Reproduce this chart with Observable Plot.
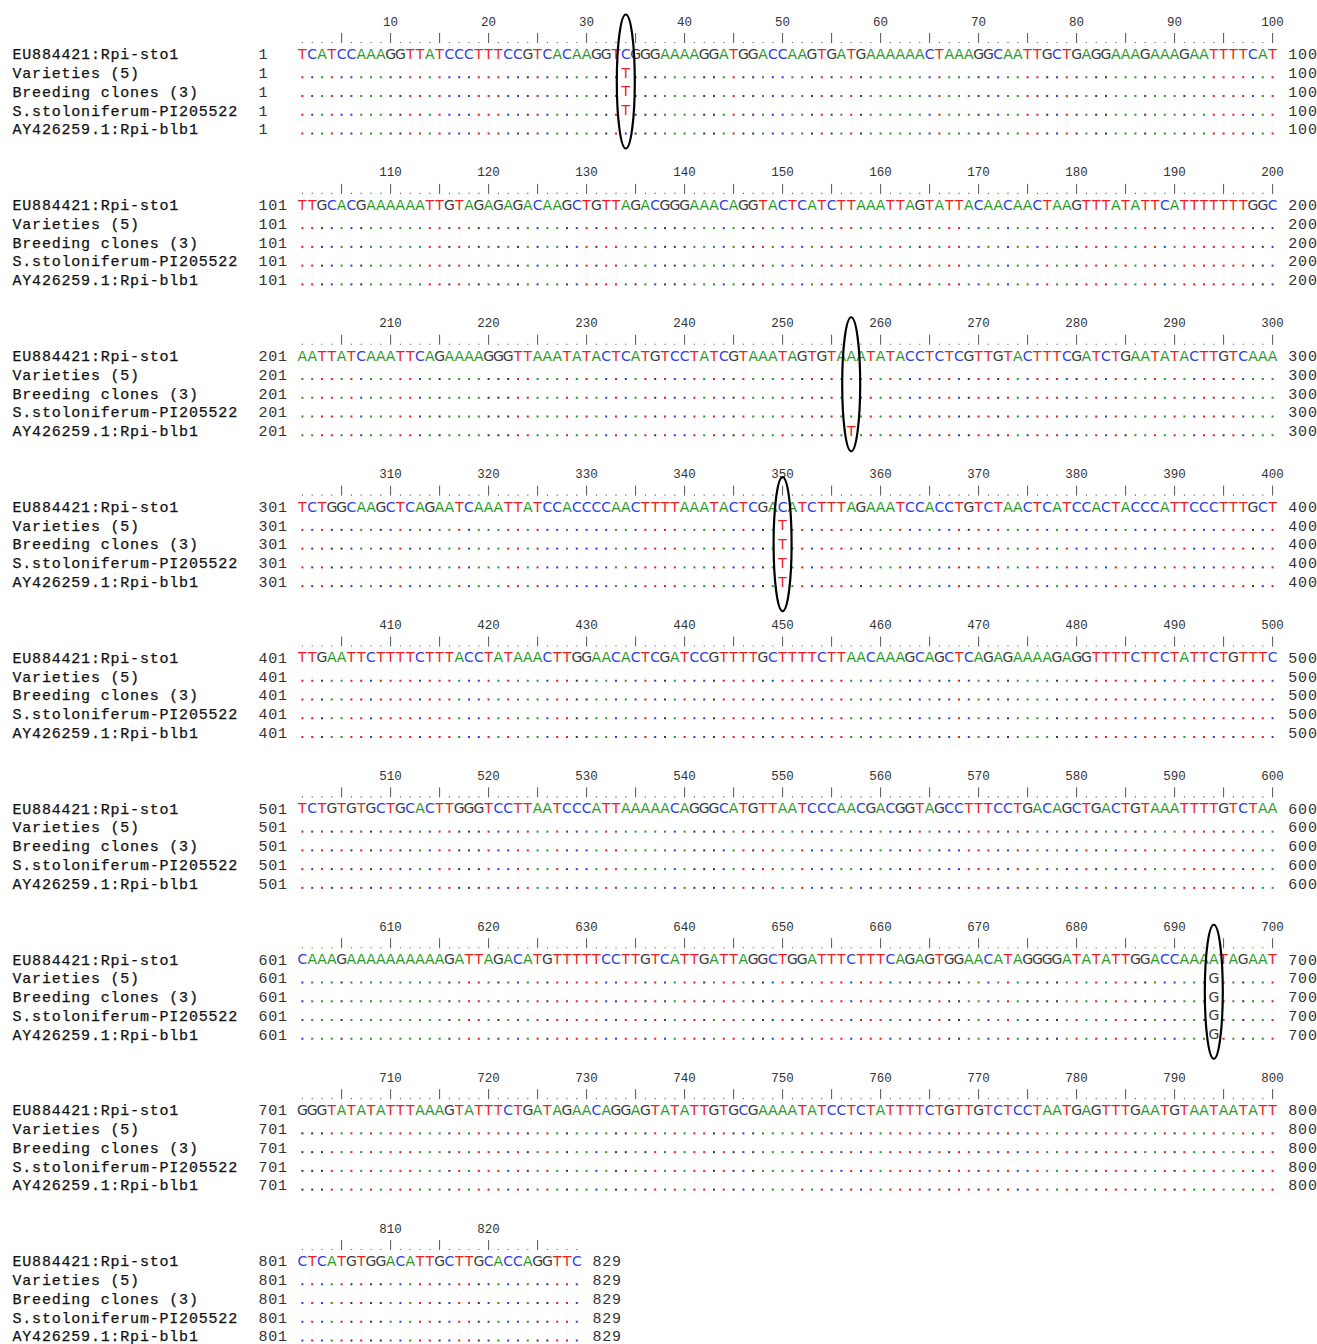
<!DOCTYPE html>
<html><head><meta charset="utf-8">
<script src="https://cdn.jsdelivr.net/npm/d3@7"></script>
<script src="https://cdn.jsdelivr.net/npm/@observablehq/plot@0.6"></script>
<style>html,body{margin:0;padding:0;background:#fff}#chart svg{display:block}</style>
</head><body><div id="chart"></div>
<script>
// ---------------- DATA ----------------
const rowNames = ["EU884421:Rpi-sto1", "Varieties (5)", "Breeding clones (3)", "S.stoloniferum-PI205522", "AY426259.1:Rpi-blb1"];
// reference sequence (EU884421:Rpi-sto1), one string per 100-nt block, written in groups of ten
const refBlocks = [
  "TCATCCAAAG GTTATCCCTT TCCGTCACAA GGTCGGGAAA AGGATGGACC AAGTGATGAA AAAACTAAAG GCAATTGCTG AGGAAAGAAA GAATTTTCAT",
  "TTGCACGAAA AAATTGTAGA GAGACAAGCT GTTAGACGGG AAACAGGTAC TCATCTTAAA TTAGTATTAC AACAACTAAG TTTATATTCA TTTTTTTGGC",
  "AATTATCAAA TTCAGAAAAG GGTTAAATAT ACTCATGTCC TATCGTAAAT AGTGTAAATA TACCTCTCGT TGTACTTTCG ATCTGAATAT ACTTGTCAAA",
  "TCTGGCAAGC TCAGAATCAA ATTATCCACC CCAACTTTTA AATACTCGAC ATCTTTAGAA ATCCACCTGT CTAACTCATC CACTACCCAT TCCCTTTGCT",
  "TTGAATTCTT TTCTTTACCT ATAAACTTGG AACACTCGAT CCGTTTTGCT TTTCTTAACA AAGCAGCTCA GAGAAAAGAG GTTTTCTTCT ATTCTGTTTC",
  "TCTGTGTGCT GCACTTGGGT CCTTAATCCC ATTAAAAACA GGGCATGTTA ATCCCAACGA CGGTAGCCTT TCCTGACAGC TGACTGTAAA TTTTGTCTAA",
  "CAAAGAAAAA AAAAAGATTA GACATGTTTT TCCTTGTCAT TGATTAGGCT GGATTTCTTT CAGAGTGGAA CATAGGGGAT ATATTGGACC AAAATAGAAT",
  "GGGTATATAT TTAAAGTATT TCTGATAGAA CAGGAGTATA TTGTGCGAAA ATATCCTCTA TTTTCTGTTG TCTCCTAATG AGTTTGAATG TAATAATATT",
  "CTCATGTGGA CATTGCTTGC ACCAGGTTC"
];
// SNP positions, alternative base, and which rows (1-4) carry it
const variantPos  = [34, 257, 350, 694];
const variantBase = ["T", "T", "T", "G"];
const variantRows = [[1, 2, 3], [4], [1, 2, 3, 4], [1, 2, 3, 4]];

// ---------------- LAYOUT / STYLE ----------------
const W = 1317, H = 1344;
const CW = 9.8, X0 = 297;                 // column width, left edge of column 1
const ROW0 = 54, BLOCK = 150.875, ROWH = 18.75;
const LABEL_PX = 12, STARTNUM_PX = 258, ENDNUM_GAP = 1.6;
const ovalShift = [27, 28, 37, 32];
const baseColor = {A: "#2b9a2b", C: "#2f3fe6", G: "#3c3c3c", T: "#ee1d23"};

const seq = refBlocks.map(s => s.replace(/ /g, "")).join("");
const N = seq.length;
const nBlocks = Math.ceil(N / 100);
const d0 = 0.5 - X0 / CW;
const colOfPx = px => d0 + px / CW;
const yOf = (b, r) => ROW0 + b * BLOCK + r * ROWH;

const cells = [], ruler = [], rulerNums = [];
for (let i = 0; i < N; i++) {
  const pos = i + 1, b = Math.floor(i / 100), c = i % 100 + 1, ref = seq[i];
  const v = variantPos.indexOf(pos);
  for (let r = 0; r < 5; r++) {
    let ch = ref;
    if (r > 0) ch = (v >= 0 && variantRows[v].includes(r)) ? variantBase[v] : ".";
    cells.push({b, c, r, ch, color: baseColor[ch === "." ? ref : ch]});
  }
  ruler.push({b, c, bar: c % 5 === 0});
  if (pos % 10 === 0) rulerNums.push({b, c, label: String(pos)});
}
const letters = cells.filter(d => d.ch !== ".");
const dots = cells.filter(d => d.ch === ".");
const labels = [];
for (let b = 0; b < nBlocks; b++) {
  const start = b * 100 + 1, end = Math.min((b + 1) * 100, N);
  for (let r = 0; r < 5; r++) labels.push({b, r, name: rowNames[r], start, end, lastCol: end - b * 100});
}
const ovals = variantPos.map((p, i) => ({b: Math.floor((p - 1) / 100), c: (p - 1) % 100 + 1, shift: ovalShift[i]}));

const ellipseSymbol = {
  draw(ctx) {
    const rx = 9, ry = 67, kx = rx * 0.5523, ky = ry * 0.5523;
    ctx.moveTo(rx, 0);
    ctx.bezierCurveTo(rx, ky, kx, ry, 0, ry);
    ctx.bezierCurveTo(-kx, ry, -rx, ky, -rx, 0);
    ctx.bezierCurveTo(-rx, -ky, -kx, -ry, 0, -ry);
    ctx.bezierCurveTo(kx, -ry, rx, -ky, rx, 0);
    ctx.closePath();
  }
};

const mono = "Liberation Mono";
const svg = Plot.plot({
  width: W, height: H,
  margin: 0,
  x: {type: "linear", domain: [d0, d0 + W / CW], range: [0, W], axis: null},
  y: {type: "linear", domain: [0, H], range: [0, H], axis: null},
  style: {background: "#fff", overflow: "visible"},
  marks: [
    // ruler numbers
    Plot.text(rulerNums, {x: "c", y: d => yOf(d.b, 0) - 33, text: "label", fontFamily: mono, fontSize: 12.5, fill: "#333", textAnchor: "middle", lineAnchor: "middle"}),
    // ruler bars and dots
    Plot.ruleX(ruler.filter(d => d.bar), {x: "c", y1: d => yOf(d.b, 0) - 21, y2: d => yOf(d.b, 0) - 11, stroke: "#555", strokeWidth: 1}),
    Plot.dot(ruler.filter(d => !d.bar), {x: "c", y: d => yOf(d.b, 0) - 12, symbol: "square", r: 0.6, fill: "#555", stroke: "none"}),
    // row labels & numbers
    Plot.text(labels, {x: () => colOfPx(LABEL_PX), y: d => yOf(d.b, d.r), text: "name", fontFamily: mono, fontSize: 15, fill: "#111", stroke: "#111", strokeWidth: 0.25, textAnchor: "start", lineAnchor: "middle"}),
    Plot.text(labels, {x: () => colOfPx(STARTNUM_PX), y: d => yOf(d.b, d.r), text: d => String(d.start), fontFamily: mono, fontSize: 15, fill: "#333", textAnchor: "start", lineAnchor: "middle"}),
    Plot.text(labels, {x: d => d.lastCol + ENDNUM_GAP, y: d => yOf(d.b, d.r), text: d => String(d.end), fontFamily: mono, fontSize: 15, fill: "#333", textAnchor: "start", lineAnchor: "middle"}),
    // sequence letters
    Plot.text(letters, {x: "c", y: d => yOf(d.b, d.r), text: "ch", fill: "color", fontFamily: "DejaVu Sans", fontSize: 14, textAnchor: "middle", lineAnchor: "middle"}),
    // identity dots
    Plot.dot(dots, {x: "c", y: d => yOf(d.b, d.r) + 4, fill: "color", symbol: "square", r: 1.15, stroke: "none"}),
    // SNP ovals
    Plot.dot(ovals, {x: "c", y: d => yOf(d.b, 0) + d.shift, symbol: ellipseSymbol, fill: "none", stroke: "#000", strokeWidth: 2.2})
  ]
});
d3.select(svg).selectAll('g[font-family="Liberation Mono"][font-size="15"]').attr("letter-spacing", "0.8px");
document.getElementById("chart").appendChild(svg);
</script>
</body></html>
